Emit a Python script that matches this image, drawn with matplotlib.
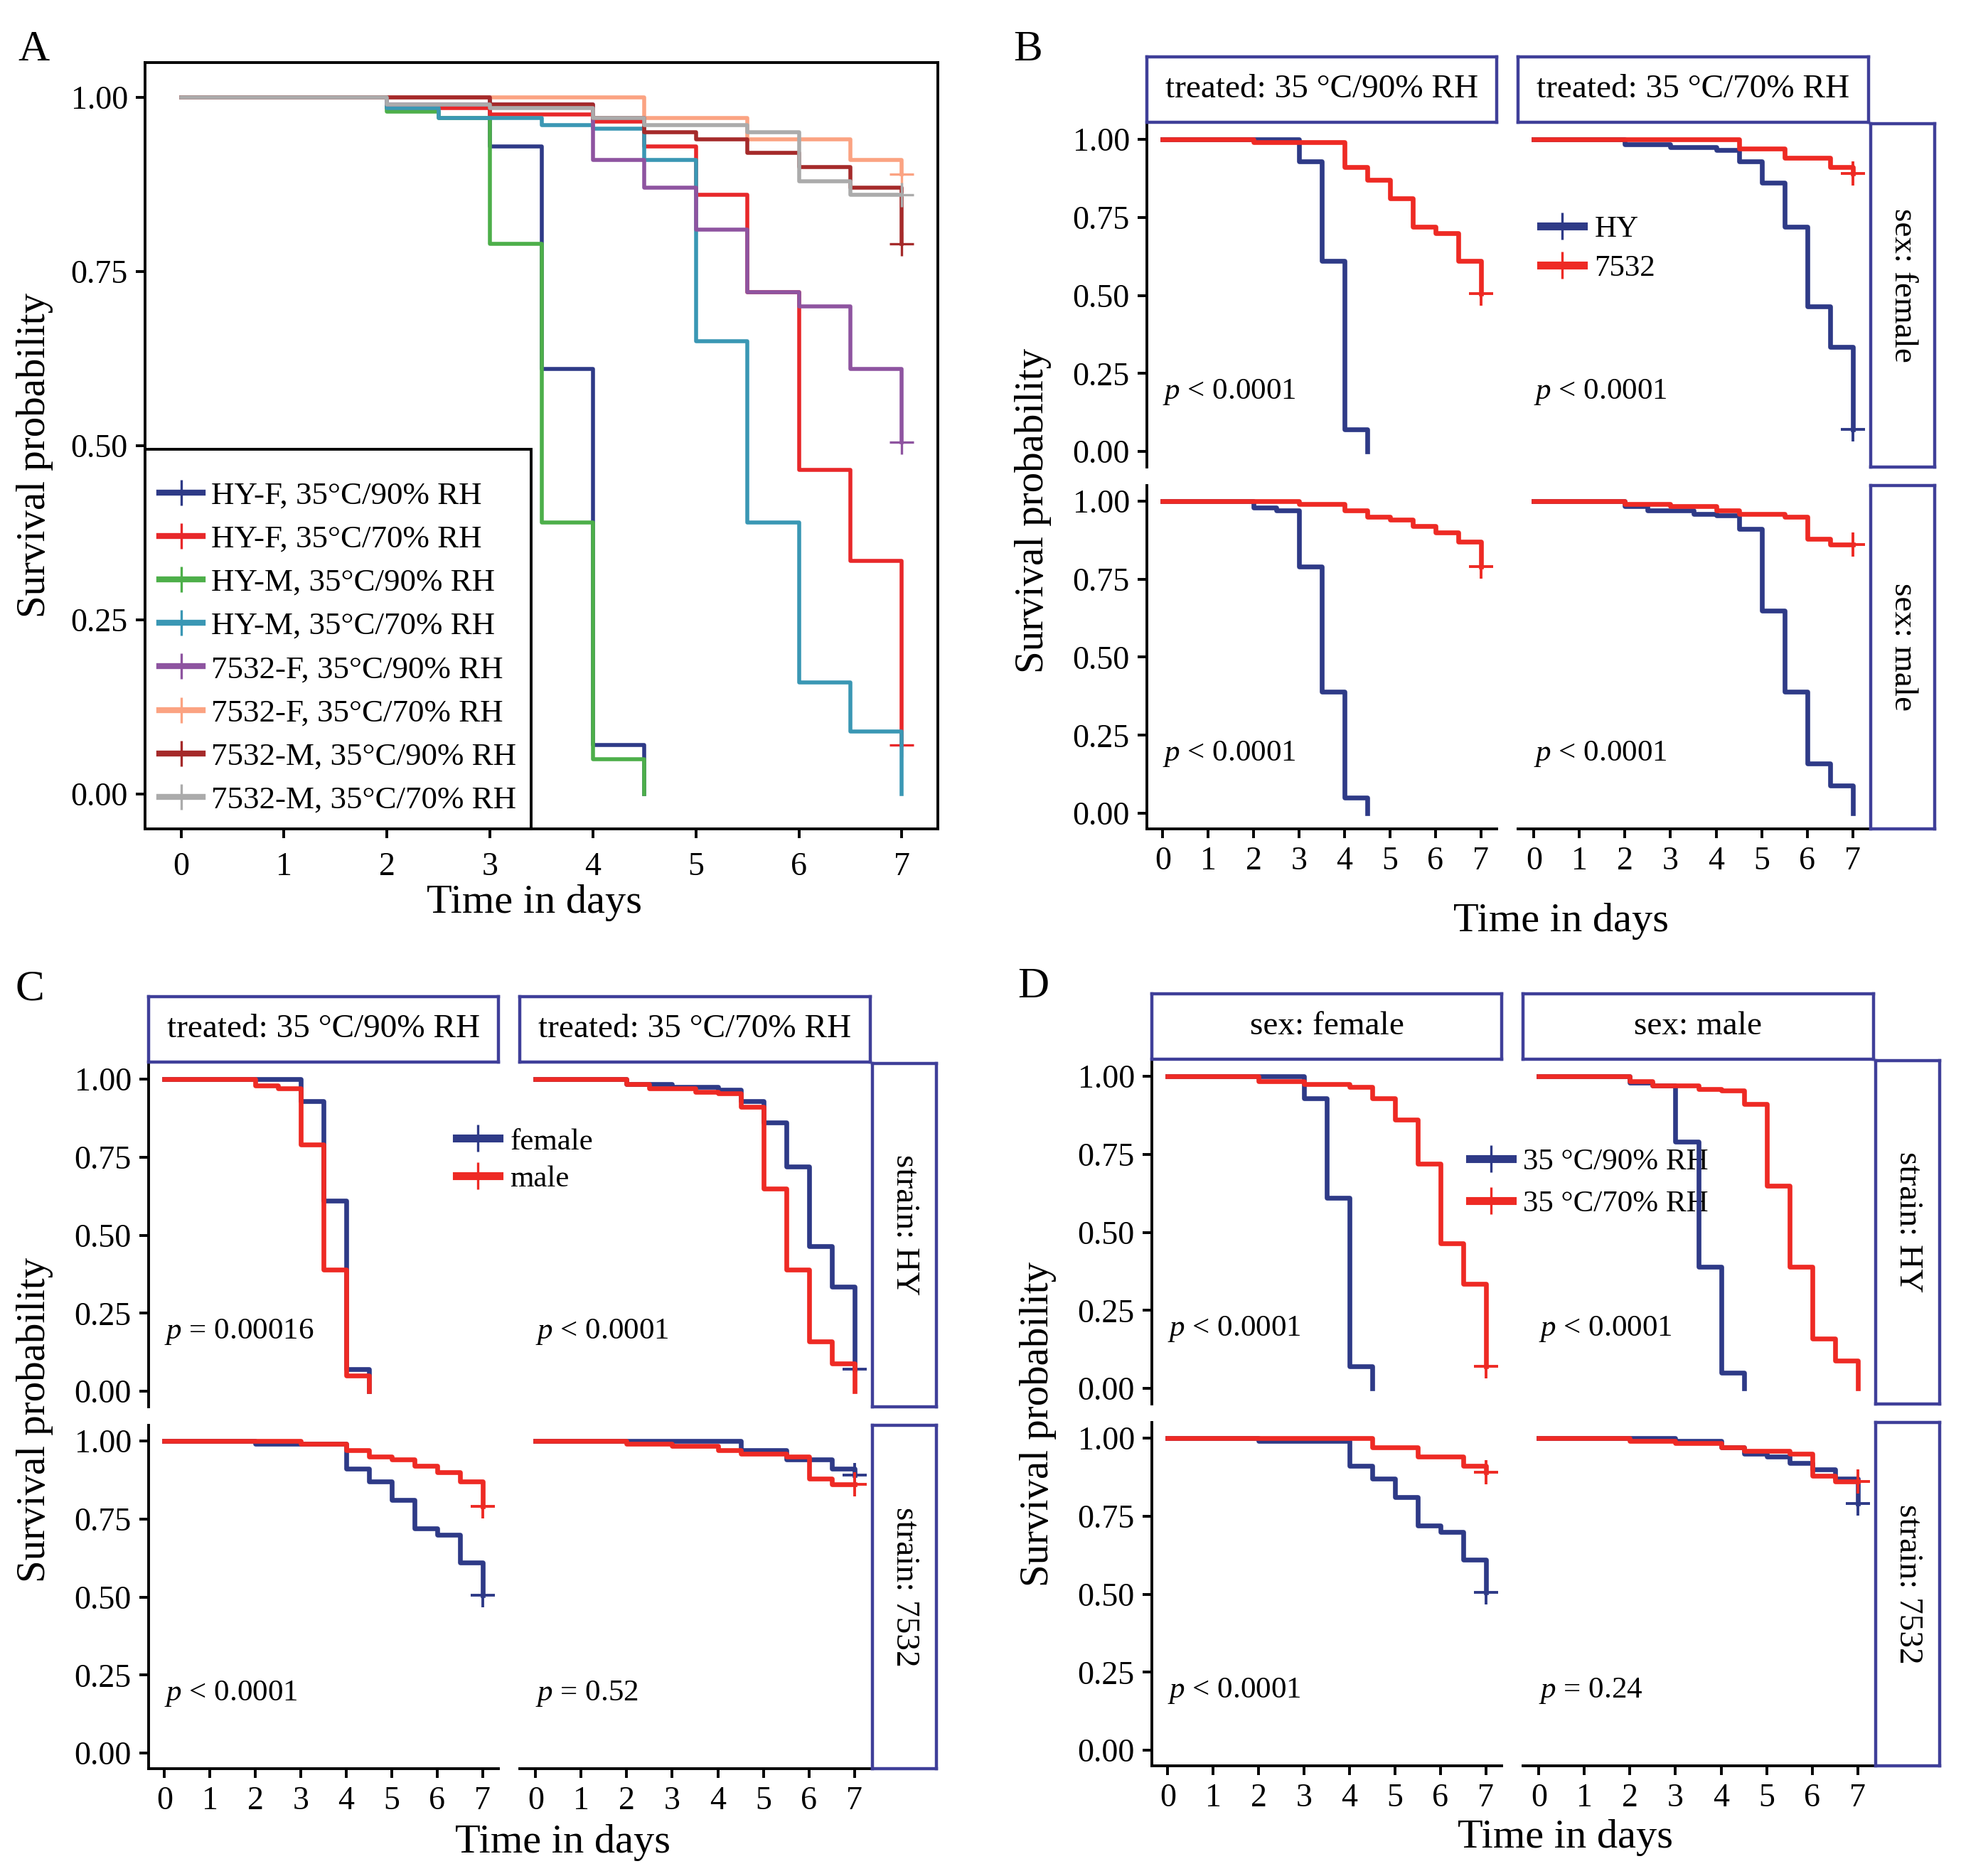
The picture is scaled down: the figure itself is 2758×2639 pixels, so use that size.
import matplotlib
matplotlib.use('Agg')
import matplotlib.pyplot as plt
from matplotlib.lines import Line2D

plt.rcParams['font.family'] = ['Liberation Serif', 'DejaVu Serif']
plt.rcParams['mathtext.fontset'] = 'custom'
plt.rcParams['mathtext.rm'] = 'Liberation Serif'
plt.rcParams['mathtext.it'] = 'Liberation Serif:italic'

W, H, DPI = 2758, 2639, 200

# Kaplan-Meier steps: time of each step and survival after it; True = censored at end
T_HYF90 = [0, 3, 3.5, 4, 4.5]
S_HYF90 = [1.0, 0.93, 0.61, 0.07, 0.0]
C_HYF90 = False
T_HYF70 = [0, 2, 3, 4, 4.5, 5, 5.5, 6, 6.5, 7]
S_HYF70 = [1.0, 0.985, 0.975, 0.965, 0.93, 0.86, 0.72, 0.465, 0.335, 0.07]
C_HYF70 = True
T_HYM90 = [0, 2, 2.5, 3, 3.5, 4, 4.5]
S_HYM90 = [1.0, 0.98, 0.97, 0.79, 0.39, 0.05, 0.0]
C_HYM90 = False
T_HYM70 = [0, 2, 2.5, 3.5, 4, 4.5, 5, 5.5, 6, 6.5, 7]
S_HYM70 = [1.0, 0.985, 0.97, 0.96, 0.955, 0.91, 0.65, 0.39, 0.16, 0.09, 0.0]
C_HYM70 = False
T_7532F90 = [0, 2, 4, 4.5, 5, 5.5, 6, 6.5, 7]
S_7532F90 = [1.0, 0.99, 0.91, 0.87, 0.81, 0.72, 0.70, 0.61, 0.505]
C_7532F90 = True
T_7532F70 = [0, 4.5, 5.5, 6.5, 7]
S_7532F70 = [1.0, 0.97, 0.94, 0.91, 0.89]
C_7532F70 = True
T_7532M90 = [0, 3, 4, 4.5, 5, 5.5, 6, 6.5, 7]
S_7532M90 = [1.0, 0.99, 0.97, 0.95, 0.94, 0.92, 0.90, 0.87, 0.79]
C_7532M90 = True
T_7532M70 = [0, 2, 3, 4, 4.5, 5.5, 6, 6.5, 7]
S_7532M70 = [1.0, 0.99, 0.985, 0.97, 0.96, 0.95, 0.88, 0.86, 0.86]
C_7532M70 = True

CURVES = {
    'HYF90': (T_HYF90, S_HYF90, C_HYF90), 'HYF70': (T_HYF70, S_HYF70, C_HYF70),
    'HYM90': (T_HYM90, S_HYM90, C_HYM90), 'HYM70': (T_HYM70, S_HYM70, C_HYM70),
    'F90': (T_7532F90, S_7532F90, C_7532F90), 'F70': (T_7532F70, S_7532F70, C_7532F70),
    'M90': (T_7532M90, S_7532M90, C_7532M90), 'M70': (T_7532M70, S_7532M70, C_7532M70),
}

A_KEYS = ['HYF90', 'HYF70', 'HYM90', 'HYM70', 'F90', 'F70', 'M90', 'M70']
A_LABELS = ['HY-F, 35°C/90% RH', 'HY-F, 35°C/70% RH', 'HY-M, 35°C/90% RH', 'HY-M, 35°C/70% RH',
            '7532-F, 35°C/90% RH', '7532-F, 35°C/70% RH', '7532-M, 35°C/90% RH', '7532-M, 35°C/70% RH']
A_COLORS = ['#2E3A87', '#E8282A', '#4DAF4A', '#3A97B4', '#8E54A0', '#FBA382', '#A52A2A', '#ABABAB']

B_GRID = [['HYF90', 'F90'], ['HYF70', 'F70']], [['HYM90', 'M90'], ['HYM70', 'M70']]
C_GRID = [['HYF90', 'HYM90'], ['HYF70', 'HYM70']], [['F90', 'M90'], ['F70', 'M70']]
D_GRID = [['HYF90', 'HYF70'], ['HYM90', 'HYM70']], [['F90', 'F70'], ['M90', 'M70']]

TREAT_LABELS = ['treated: 35 °C/90% RH', 'treated: 35 °C/70% RH']
SEX_LABELS = ['sex: female', 'sex: male']
STRAIN_LABELS = ['strain: HY', 'strain: 7532']

P = r'$\it{p}$'
B_P = [[P + ' < 0.0001', P + ' < 0.0001'], [P + ' < 0.0001', P + ' < 0.0001']]
C_P = [[P + ' = 0.00016', P + ' < 0.0001'], [P + ' < 0.0001', P + ' = 0.52']]
D_P = [[P + ' < 0.0001', P + ' < 0.0001'], [P + ' < 0.0001', P + ' = 0.24']]

NAVY = '#2E3A87'
RED = '#EE2A24'
STRIP = '#3F3F99'
YT = [0, 0.25, 0.5, 0.75, 1.0]
YTL = ['0.00', '0.25', '0.50', '0.75', '1.00']

fig = plt.figure(figsize=(W / DPI, H / DPI), dpi=DPI)
fig.patch.set_facecolor('white')


def px_axes(l, t, r, b):
    return fig.add_axes([l / W, 1 - b / H, (r - l) / W, (b - t) / H])


def fx(x): return x / W
def fy(y): return 1 - y / H


def style_ticks(ax):
    ax.tick_params(direction='out', length=4.7, width=1.4, labelsize=16.5, pad=4, color='black')


# ---- Panel A
axA = px_axes(204, 88, 1319, 1166)
for k, c in zip(A_KEYS, A_COLORS):
    tt, ss, cens = CURVES[k]
    axA.step(tt, ss, where='post', color=c, lw=2.0)
    if cens:
        axA.plot(tt[-1], ss[-1], marker='+', ms=12, mew=1.2, color=c)
axA.set_xlim(-0.35, 7.35); axA.set_ylim(-0.05, 1.05)
axA.set_xticks(range(8)); axA.set_yticks(YT); axA.set_yticklabels(YTL)
for s in axA.spines.values():
    s.set_linewidth(1.4)
style_ticks(axA)
axA.tick_params(axis='x', pad=7)
hA = [Line2D([], [], color=c, lw=3.0, marker='+', ms=13, mew=1.2) for c in A_COLORS]
legA = axA.legend(hA, A_LABELS, loc='lower left', bbox_to_anchor=(0, 0), borderaxespad=0,
                  frameon=True, fancybox=False, edgecolor='black', framealpha=1, fontsize=16.2,
                  handlelength=1.35, handletextpad=0.27, labelspacing=0.46, borderpad=0.45,
                  title=' ', title_fontsize=1)
legA.get_frame().set_linewidth(1.4)
fig.text(fx(47), fy(70), 'A', fontsize=22, ha='center', va='center')
fig.text(fx(49), fy(640), 'Survival probability', rotation=90, fontsize=20.5, ha='center', va='center')
fig.text(fx(751), fy(1270), 'Time in days', fontsize=21, ha='center', va='center')

# ---- facet panels B, C, D
COLS_X = [(0, 492), (522, 1015)]
STRIP_Y = (0, 92)
ROWS_Y = [(94, 577), (603, 1086)]
RSTRIP_X = (1018, 1108)


def strip(l, t, r, b, label, rot):
    sa = px_axes(l, t, r, b)
    sa.set_xticks([]); sa.set_yticks([])
    sa.set_facecolor('white')
    for s in sa.spines.values():
        s.set_color(STRIP); s.set_linewidth(1.6)
    ty = 0.53 if rot else 0.5
    sa.text(0.5, ty, label, transform=sa.transAxes, ha='center', va='center',
            fontsize=17, rotation=rot)


def facet(x0, y0, grid, col_labels, row_labels, pvals, leg_labels, leg_col, leg_xy,
          letter, ylab_y, xlab_dy):
    axes = [[None, None], [None, None]]
    for i in range(2):
        for j in range(2):
            l, r = x0 + COLS_X[j][0], x0 + COLS_X[j][1]
            t, b = y0 + ROWS_Y[i][0], y0 + ROWS_Y[i][1]
            ax = px_axes(l, t, r, b)
            ax.set_facecolor('none')
            for k, c in zip(grid[i][j], [NAVY, RED]):
                tt, ss, cens = CURVES[k]
                ax.step(tt, ss, where='post', color=c, lw=2.4)
                if cens:
                    ax.plot(tt[-1], ss[-1], marker='+', ms=12, mew=1.4, color=c)
            ax.set_xlim(-0.35, 7.35); ax.set_ylim(-0.05, 1.05)
            ax.spines['top'].set_visible(False); ax.spines['right'].set_visible(False)
            ax.spines['left'].set_visible(j == 0); ax.spines['bottom'].set_visible(i == 1)
            ax.spines['left'].set_linewidth(1.4); ax.spines['bottom'].set_linewidth(1.4)
            ax.set_xticks(range(8)); ax.set_yticks(YT); ax.set_yticklabels(YTL)
            style_ticks(ax)
            if i == 0:
                ax.tick_params(axis='x', bottom=False, labelbottom=False)
            if j == 1:
                ax.tick_params(axis='y', left=False, labelleft=False)
            ax.text(0, 0.19, pvals[i][j], fontsize=15.5, ha='left', va='center')
            axes[i][j] = ax
    for j in range(2):
        strip(x0 + COLS_X[j][0], y0 + STRIP_Y[0], x0 + COLS_X[j][1], y0 + STRIP_Y[1],
              col_labels[j], 0)
    for i in range(2):
        strip(x0 + RSTRIP_X[0], y0 + ROWS_Y[i][0], x0 + RSTRIP_X[1], y0 + ROWS_Y[i][1],
              row_labels[i], -90)
    hs = [Line2D([], [], color=c, lw=4.0, marker='+', ms=14, mew=1.2) for c in [NAVY, RED]]
    axes[0][leg_col].legend(hs, leg_labels, loc='center left',
                            bbox_to_anchor=(fx(x0 + leg_xy[0]), fy(y0 + leg_xy[1])),
                            bbox_transform=fig.transFigure, frameon=False, borderpad=0,
                            borderaxespad=0, handlelength=1.4, handletextpad=0.35,
                            labelspacing=leg_xy[2], fontsize=15.5)
    fig.text(fx(x0 - 167), fy(y0 - 10), letter, fontsize=22, ha='center', va='center')
    fig.text(fx(x0 - 160), fy(ylab_y), 'Survival probability', rotation=90, fontsize=20.5,
             ha='center', va='center')
    fig.text(fx(x0 + 582), fy(y0 + ROWS_Y[1][1] + xlab_dy), 'Time in days', fontsize=21,
             ha='center', va='center')


facet(1613, 80, B_GRID, TREAT_LABELS, SEX_LABELS, B_P, ['HY', '7532'], 1, (554, 270, 0.35),
      'B', 718, 130)
facet(209, 1402, C_GRID, TREAT_LABELS, STRAIN_LABELS, C_P, ['female', 'male'], 0,
      (433, 230, 0.3), 'C', 1997, 104)
facet(1620, 1398, D_GRID, SEX_LABELS, STRAIN_LABELS, D_P, ['35 °C/90% RH', '35 °C/70% RH'], 0,
      (447, 266, 0.45), 'D', 2003, 101)

fig.savefig('out.png', dpi=DPI, facecolor='white')
